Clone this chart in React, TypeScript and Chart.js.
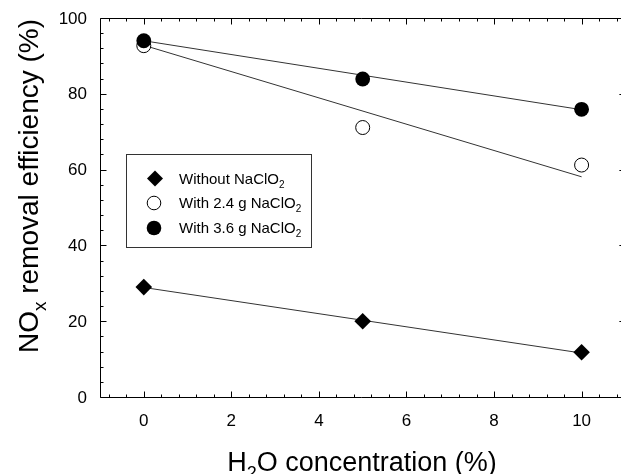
import React, { useEffect, useRef } from "react";
import { Chart, registerables } from "chart.js";

Chart.register(...registerables);

// ---- data ----
const xValues = [0, 5, 10];
const withoutNaClO2 = [29.0, 20.0, 11.8];
const with24NaClO2 = [92.7, 71.1, 61.2];
const with36NaClO2 = [94.0, 83.9, 75.9];
const fitX = [0, 10];
const fitWithout = [28.9, 11.6];
const fit24 = [92.8, 58.1];
const fit36 = [94.0, 75.8];
const xTickValues = [0, 2, 4, 6, 8, 10];
const yTickValues = [0, 20, 40, 60, 80, 100];
const legendLabels = ["Without NaClO", "With 2.4 g NaClO", "With 3.6 g NaClO"];

const FONT = '"Liberation Sans", Arial, Helvetica, sans-serif';

type Part = { t: string; sub?: boolean };

function richWidth(ctx: CanvasRenderingContext2D, parts: Part[], size: number) {
  let w = 0;
  for (const p of parts) {
    ctx.font = `${p.sub ? Math.round(size * 0.68) : size}px ${FONT}`;
    w += ctx.measureText(p.t).width;
  }
  return w;
}

function drawRich(ctx: CanvasRenderingContext2D, parts: Part[], x: number, y: number, size: number) {
  let cx = x;
  ctx.textAlign = "left";
  ctx.textBaseline = "alphabetic";
  for (const p of parts) {
    const s = p.sub ? Math.round(size * 0.68) : size;
    ctx.font = `${s}px ${FONT}`;
    ctx.fillText(p.t, cx, p.sub ? y + size * 0.28 : y);
    cx += ctx.measureText(p.t).width;
  }
}

const framePlugin = {
  id: "frame",
  afterDatasetsDraw(chart: any) {
    const ctx: CanvasRenderingContext2D = chart.ctx;
    const xs = chart.scales.x;
    const ys = chart.scales.y;
    const left = Math.round(xs.getPixelForValue(-1)) + 0.5;
    const right = xs.getPixelForValue(11);
    const top = Math.round(ys.getPixelForValue(100)) + 0.5;
    const bottom = Math.round(ys.getPixelForValue(0)) + 0.5;
    ctx.save();
    ctx.strokeStyle = "#000";
    ctx.lineWidth = 1;
    ctx.beginPath();
    ctx.moveTo(left, top);
    ctx.lineTo(right, top);
    ctx.lineTo(right, bottom);
    ctx.lineTo(left, bottom);
    ctx.closePath();
    ctx.stroke();

    ctx.beginPath();
    for (let i = -2; i <= 27; i++) {
      const v = i * 0.4;
      if (v < -1 || v > 11) continue;
      const isMajor = Math.abs(v / 2 - Math.round(v / 2)) < 1e-6;
      const len = isMajor ? 6 : 3;
      const px = Math.round(xs.getPixelForValue(v)) + 0.5;
      ctx.moveTo(px, bottom);
      ctx.lineTo(px, bottom - len);
      ctx.moveTo(px, top);
      ctx.lineTo(px, top + len);
    }
    for (let v = 0; v <= 100; v += 4) {
      const isMajor = v % 20 === 0;
      const len = isMajor ? 6 : 3;
      const py = Math.round(ys.getPixelForValue(v)) + 0.5;
      ctx.moveTo(left, py);
      ctx.lineTo(left + len, py);
      ctx.moveTo(right, py);
      ctx.lineTo(right - len, py);
    }
    ctx.stroke();

    ctx.fillStyle = "#000";
    ctx.font = `17px ${FONT}`;
    ctx.textAlign = "center";
    ctx.textBaseline = "middle";
    for (const v of xTickValues) {
      ctx.fillText(String(v), xs.getPixelForValue(v), 421);
    }
    ctx.textAlign = "right";
    for (const v of yTickValues) {
      ctx.fillText(String(v), 87, ys.getPixelForValue(v) + 1);
    }

    const xt: Part[] = [{ t: "H" }, { t: "2", sub: true }, { t: "O concentration (%)" }];
    const xw = richWidth(ctx, xt, 27);
    drawRich(ctx, xt, 362 - xw / 2, 471, 27);

    const yt: Part[] = [{ t: "NO" }, { t: "x", sub: true }, { t: " removal efficiency (%)" }];
    const yw = richWidth(ctx, yt, 28);
    ctx.save();
    ctx.translate(38, 186);
    ctx.rotate(-Math.PI / 2);
    drawRich(ctx, yt, -yw / 2, 0, 28);
    ctx.restore();

    // legend
    const lx = 126.5, ly = 154.5, lw = 185, lh = 93;
    ctx.fillStyle = "#fff";
    ctx.fillRect(lx, ly, lw, lh);
    ctx.strokeStyle = "#333";
    ctx.strokeRect(lx, ly, lw, lh);
    const rows = [178.5, 203, 228];
    ctx.fillStyle = "#000";
    ctx.beginPath();
    ctx.moveTo(155 - 8, rows[0]);
    ctx.lineTo(155, rows[0] - 8);
    ctx.lineTo(155 + 8, rows[0]);
    ctx.lineTo(155, rows[0] + 8);
    ctx.closePath();
    ctx.fill();
    ctx.beginPath();
    ctx.arc(154, rows[1], 6.8, 0, Math.PI * 2);
    ctx.fillStyle = "#fff";
    ctx.fill();
    ctx.strokeStyle = "#000";
    ctx.stroke();
    ctx.beginPath();
    ctx.arc(154, rows[2], 7.3, 0, Math.PI * 2);
    ctx.fillStyle = "#000";
    ctx.fill();
    ctx.fillStyle = "#000";
    legendLabels.forEach((lab, i) => {
      drawRich(ctx, [{ t: lab }, { t: "2", sub: true }], 179, rows[i] + 5, 15);
    });
    ctx.restore();
  },
};

export default function App() {
  const ref = useRef<HTMLCanvasElement | null>(null);
  useEffect(() => {
    if (!ref.current) return;
    const pts = (ys: number[]) => xValues.map((x, i) => ({ x, y: ys[i] }));
    const fit = (ys: number[]) => fitX.map((x, i) => ({ x, y: ys[i] }));
    const chart = new Chart(ref.current, {
      type: "scatter",
      data: {
        datasets: [
          {
            label: "With 3.6 g NaClO2",
            data: pts(with36NaClO2),
            pointStyle: "circle",
            pointRadius: 7.4,
            backgroundColor: "#000",
            borderColor: "#000",
            borderWidth: 0,
            order: 0,
          },
          {
            label: "With 2.4 g NaClO2",
            data: pts(with24NaClO2),
            pointStyle: "circle",
            pointRadius: 7,
            backgroundColor: "#fff",
            borderColor: "#000",
            borderWidth: 1,
            order: 1,
          },
          {
            label: "Without NaClO2",
            data: pts(withoutNaClO2),
            pointStyle: "rectRot",
            pointRadius: 8.3,
            backgroundColor: "#000",
            borderColor: "#000",
            borderWidth: 0,
            order: 2,
          },
          {
            label: "fit 3.6",
            data: fit(fit36),
            showLine: true,
            pointRadius: 0,
            borderColor: "#333",
            borderWidth: 1,
            order: 3,
          },
          {
            label: "fit 2.4",
            data: fit(fit24),
            showLine: true,
            pointRadius: 0,
            borderColor: "#333",
            borderWidth: 1,
            order: 3,
          },
          {
            label: "fit without",
            data: fit(fitWithout),
            showLine: true,
            pointRadius: 0,
            borderColor: "#333",
            borderWidth: 1,
            order: 3,
          },
        ],
      },
      options: {
        animation: false,
        responsive: false,
        layout: { autoPadding: false, padding: { left: 100, top: 18, right: 0, bottom: 77 } },
        plugins: { legend: { display: false }, tooltip: { enabled: false } },
        scales: {
          x: { type: "linear", display: false, min: -1, max: 10.9 },
          y: { type: "linear", display: false, min: 0, max: 100 },
        },
      },
      plugins: [framePlugin],
    });
    return () => chart.destroy();
  }, []);
  return (
    <div style={{ position: "fixed", left: 0, top: 0, width: 621, height: 474, background: "#fff" }}>
      <canvas ref={ref} width={621} height={474} style={{ display: "block" }} />
    </div>
  );
}
